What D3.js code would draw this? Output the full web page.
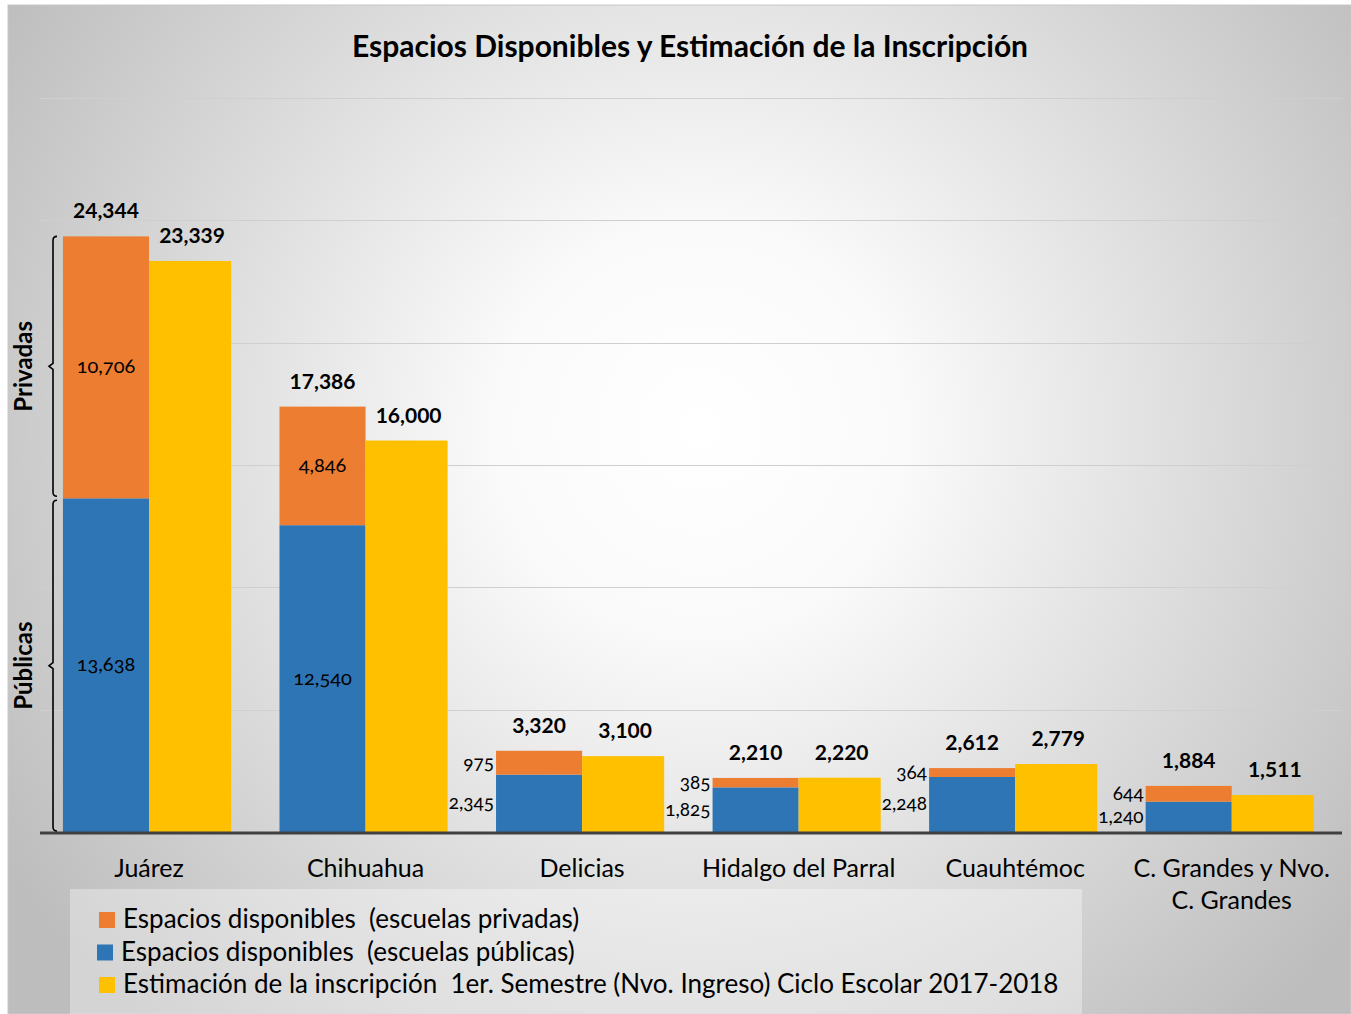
<!DOCTYPE html>
<html>
<head>
<meta charset="utf-8">
<script src="https://cdn.jsdelivr.net/npm/d3@7"></script>
<style>
  body { margin: 0; background: #fff; }
  text { font-family: Lato, "Open Sans", sans-serif; fill: #000; white-space: pre; }
</style>
</head>
<body>
<svg id="chart" width="1351" height="1014"></svg>
<script>
// categories and series
const categories = ["Juárez", "Chihuahua", "Delicias", "Hidalgo del Parral", "Cuauhtémoc", "C. Grandes y Nvo. C. Grandes"];
const publicas   = [13638, 12540, 2345, 1825, 2248, 1240];
const privadas   = [10706, 4846, 975, 385, 364, 644];
const totales    = [24344, 17386, 3320, 2210, 2612, 1884];
const estimacion = [23339, 16000, 3100, 2220, 2779, 1511];
const yTicks = [5000, 10000, 15000, 20000, 25000, 30000];
const legendLabels = [
  "Espacios disponibles  (escuelas privadas)",
  "Espacios disponibles  (escuelas públicas)",
  "Estimación de la inscripción  1er. Semestre (Nvo. Ingreso) Ciclo Escolar 2017-2018"
];

const colors = { priv: "#ED7D31", pub: "#2E75B6", est: "#FFC000" };
const fmt = d3.format(",");

const svg = d3.select("#chart");

// background with radial gradient
const defs = svg.append("defs");
const grad = defs.append("radialGradient")
  .attr("id", "bg").attr("gradientUnits", "userSpaceOnUse")
  .attr("cx", 700).attr("cy", 430).attr("r", 820);
grad.append("stop").attr("offset", "0%").attr("stop-color", "#ffffff");
grad.append("stop").attr("offset", "25%").attr("stop-color", "#fafafa");
grad.append("stop").attr("offset", "100%").attr("stop-color", "#bdbdbd");

svg.append("rect")
  .attr("x", 8).attr("y", 5).attr("width", 1343).attr("height", 1009)
  .attr("fill", "url(#bg)").attr("stroke", "#c8c8c8");

const margin = { left: 40.75, right: 1340, top: 98, bottom: 832 };

const x = d3.scaleBand()
  .domain(categories)
  .range([margin.left, margin.right])
  .paddingInner(0.205).paddingOuter(0.1025);

const x1 = d3.scaleBand().domain(["a", "b"]).range([0, x.bandwidth()]);

const y = d3.scaleLinear().domain([0, 30000]).range([margin.bottom, margin.top]);

// gridlines
svg.append("g").selectAll("line").data(yTicks).join("line")
  .attr("x1", 40).attr("x2", 1342)
  .attr("y1", d => Math.round(y(d)) + 0.5).attr("y2", d => Math.round(y(d)) + 0.5)
  .attr("stroke", "#cfcfcf").attr("stroke-width", 1.2);

// title
svg.append("text")
  .attr("x", 690).attr("y", 57)
  .attr("text-anchor", "middle")
  .style("font-size", "30px").style("font-weight", "bold")
  .text("Espacios Disponibles y Estimación de la Inscripción");

const rows = categories.map((c, i) => ({
  c, pub: publicas[i], priv: privadas[i], tot: totales[i], est: estimacion[i]
}));

const g = svg.append("g");

// stacked bars: públicas at the bottom, privadas on top
g.selectAll(".pub").data(rows).join("rect")
  .attr("x", d => x(d.c) + x1("a"))
  .attr("width", x1.bandwidth())
  .attr("y", d => y(d.pub))
  .attr("height", d => y(0) - y(d.pub))
  .attr("fill", colors.pub);

g.selectAll(".priv").data(rows).join("rect")
  .attr("x", d => x(d.c) + x1("a"))
  .attr("width", x1.bandwidth())
  .attr("y", d => y(d.pub + d.priv))
  .attr("height", d => y(d.pub) - y(d.pub + d.priv))
  .attr("fill", colors.priv);

g.selectAll(".est").data(rows).join("rect")
  .attr("x", d => x(d.c) + x1("b"))
  .attr("width", x1.bandwidth() - 4)
  .attr("y", d => y(d.est))
  .attr("height", d => y(0) - y(d.est))
  .attr("fill", colors.est);

// total labels
g.selectAll(".tot").data(rows).join("text")
  .attr("x", d => x(d.c) + x1("a") + x1.bandwidth() / 2)
  .attr("y", d => y(d.tot) - 18)
  .attr("text-anchor", "middle")
  .style("font-size", "21px").style("font-weight", "bold")
  .text(d => fmt(d.tot));

g.selectAll(".estl").data(rows).join("text")
  .attr("x", d => x(d.c) + x1("b") + x1.bandwidth() / 2)
  .attr("y", d => y(d.est) - 18)
  .attr("text-anchor", "middle")
  .style("font-size", "21px").style("font-weight", "bold")
  .text(d => fmt(d.est));

// segment labels: inside for large bars, to the left for small ones
const big = d => d.tot > 10000;
function segLabel(key, lo, hi) {
  g.selectAll("." + key).data(rows).join("text")
    .attr("x", d => big(d) ? x(d.c) + x1("a") + x1.bandwidth() / 2 : x(d.c) + x1("a") - 2)
    .attr("y", d => (y(lo(d)) + y(hi(d))) / 2 + 6)
    .attr("text-anchor", d => big(d) ? "middle" : "end")
    .style("font-size", d => big(d) ? "20px" : "19px")
    .style("font-variant-numeric", "oldstyle-nums")
    .text(d => fmt(d[key]));
}
segLabel("pub", d => 0, d => d.pub);
segLabel("priv", d => d.pub, d => d.pub + d.priv);

// baseline
svg.append("line")
  .attr("x1", 40).attr("x2", 1342)
  .attr("y1", y(0) + 1).attr("y2", y(0) + 1)
  .attr("stroke", "#404040").attr("stroke-width", 3);

// x labels
const xl = svg.append("g").selectAll("text").data(categories).join("text")
  .attr("x", d => x(d) + x.bandwidth() / 2)
  .attr("y", 877)
  .attr("text-anchor", "middle")
  .style("font-size", "25px");
xl.each(function (d) {
  const t = d3.select(this);
  const parts = d === "C. Grandes y Nvo. C. Grandes" ? ["C. Grandes y Nvo.", "C. Grandes"] : [d];
  parts.forEach((p, i) => t.append("tspan")
    .attr("x", x(d) + x.bandwidth() / 2)
    .attr("dy", i === 0 ? 0 : 32).text(p));
});

// left brackets (Privadas / Públicas) using Juárez values
const j = rows[0];
const brackets = [
  { label: "Privadas", y0: y(j.tot), y1: y(j.pub) - 2 },
  { label: "Públicas", y0: y(j.pub) + 2, y1: y(0) - 1 }
];
brackets.forEach(b => {
  const ym = (b.y0 + b.y1) / 2;
  svg.append("path")
    .attr("d", `M57,${b.y0} Q53,${b.y0} 53,${b.y0 + 4} V${ym - 3} L49,${ym} L53,${ym + 3} V${b.y1 - 4} Q53,${b.y1} 57,${b.y1}`)
    .attr("fill", "none").attr("stroke", "#000").attr("stroke-width", 1.6);
  svg.append("text")
    .attr("transform", `translate(32,${ym}) rotate(-90)`)
    .attr("text-anchor", "middle")
    .style("font-size", "24px").style("font-weight", "bold")
    .text(b.label);
});

// legend
svg.append("rect")
  .attr("x", 70).attr("y", 889).attr("width", 1012).attr("height", 125)
  .attr("fill", "#ffffff").attr("opacity", 0.35);

const legColors = [colors.priv, colors.pub, colors.est];
const leg = svg.append("g").selectAll("g").data(legendLabels).join("g")
  .attr("transform", (d, i) => `translate(${i === 1 ? 97 : 99},${912 + i * 32.5})`);
leg.append("rect").attr("width", 16).attr("height", 16)
  .attr("fill", (d, i) => legColors[i]);
leg.append("text").attr("x", 24).attr("y", 16)
  .style("font-size", "26px")
  .text(d => d);
</script>
</body>
</html>
